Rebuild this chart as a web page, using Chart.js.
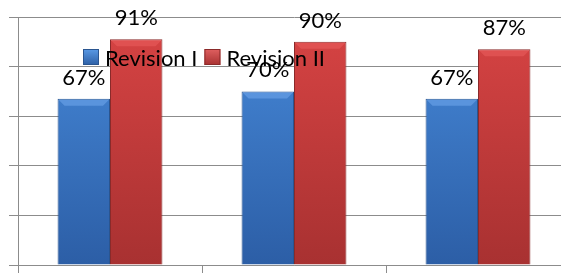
<!DOCTYPE html>
<html>
<head>
<meta charset="utf-8">
<script src="https://cdn.jsdelivr.net/npm/chart.js@4/dist/chart.umd.min.js"></script>
<style>
  html, body { margin: 0; padding: 0; background: #fff; overflow: hidden; }
  #wrap { width: 571px; height: 273px; }
</style>
</head>
<body>
<div id="wrap"><canvas id="chart" width="571" height="273"></canvas></div>
<script>
// chart data
const categories = ['Group 1', 'Group 2', 'Group 3'];
const seriesNames = ['Revision I', 'Revision II'];
const revision1 = [67, 70, 67];
const revision2 = [91, 90, 87];
const yTicks = [0, 20, 40, 60, 80, 100];

const FONT = 'Lato, "Open Sans", sans-serif';
const GRID = '#8c8c8c';

function barGradient(top, bottom, fallback) {
  return function(context) {
    const area = context.chart.chartArea;
    if (!area) return fallback;
    const g = context.chart.ctx.createLinearGradient(0, area.top, 0, area.bottom);
    g.addColorStop(0, top);
    g.addColorStop(1, bottom);
    return g;
  };
}

// bevel on top of each bar, value labels and the legend overlay
const decorPlugin = {
  id: 'decor',
  afterDatasetsDraw(chart) {
    const ctx = chart.ctx;
    const bevel = ['rgba(110,165,235,0.6)', 'rgba(235,95,95,0.55)'];
    ctx.save();
    chart.data.datasets.forEach((ds, i) => {
      const meta = chart.getDatasetMeta(i);
      meta.data.forEach(bar => {
        const half = bar.width / 2;
        const h = 6;
        ctx.fillStyle = bevel[i];
        ctx.beginPath();
        ctx.moveTo(bar.x - half + 1, bar.y + 1);
        ctx.lineTo(bar.x + half - 1, bar.y + 1);
        ctx.lineTo(bar.x + half - 1 - h, bar.y + 1 + h);
        ctx.lineTo(bar.x - half + 1 + h, bar.y + 1 + h);
        ctx.closePath();
        ctx.fill();
      });
    });

    ctx.fillStyle = '#000';
    ctx.font = '22px ' + FONT;
    ctx.textAlign = 'center';
    ctx.textBaseline = 'alphabetic';
    chart.data.datasets.forEach((ds, i) => {
      const meta = chart.getDatasetMeta(i);
      meta.data.forEach((bar, j) => {
        ctx.fillText(ds.data[j] + '%', bar.x, bar.y - 14);
      });
    });

    // legend drawn over the plot like the original
    const area = chart.chartArea;
    let x = area.left + 65;
    const y = area.top + 32;
    ctx.textAlign = 'left';
    chart.data.datasets.forEach((ds, i) => {
      const g = ctx.createLinearGradient(0, y, 0, y + 16);
      g.addColorStop(0, ds.legendTop);
      g.addColorStop(1, ds.legendBottom);
      ctx.fillStyle = g;
      ctx.fillRect(x, y, 16, 16);
      ctx.strokeStyle = ds.borderColor;
      ctx.lineWidth = 1;
      ctx.strokeRect(x + 0.5, y + 0.5, 15, 15);
      ctx.fillStyle = '#000';
      ctx.fillText(ds.label, x + 22, y + 17);
      x += 22 + ctx.measureText(ds.label).width + 7;
    });
    ctx.restore();
  }
};

new Chart(document.getElementById('chart'), {
  type: 'bar',
  data: {
    labels: categories,
    datasets: [
      {
        label: seriesNames[0],
        data: revision1,
        backgroundColor: barGradient('#478ada', '#2c5ea6', '#3c78c8'),
        borderColor: '#2a5590',
        borderWidth: 1,
        legendTop: '#5a9ae6',
        legendBottom: '#2d5fa5'
      },
      {
        label: seriesNames[1],
        data: revision2,
        backgroundColor: barGradient('#d84444', '#a83131', '#c83c3c'),
        borderColor: '#8a2a2a',
        borderWidth: 1,
        legendTop: '#e06060',
        legendBottom: '#a83131'
      }
    ]
  },
  options: {
    responsive: false,
    animation: false,
    devicePixelRatio: 1,
    layout: { padding: { left: 9, top: 17, right: 1, bottom: 0 } },
    categoryPercentage: 0.57,
    barPercentage: 1.0,
    scales: {
      x: {
        offset: true,
        ticks: { display: false },
        grid: {
          offset: true,
          drawOnChartArea: false,
          drawTicks: true,
          tickLength: 8,
          color: GRID
        },
        border: { color: GRID, width: 1 }
      },
      y: {
        min: yTicks[0],
        max: yTicks[yTicks.length - 1],
        afterBuildTicks: axis => { axis.ticks = yTicks.map(v => ({ value: v })); },
        ticks: { display: false },
        grid: { color: GRID, lineWidth: 1, tickLength: 9 },
        border: { color: GRID, width: 1 }
      }
    },
    plugins: {
      legend: { display: false },
      tooltip: { enabled: false }
    }
  },
  plugins: [decorPlugin]
});
</script>
</body>
</html>
